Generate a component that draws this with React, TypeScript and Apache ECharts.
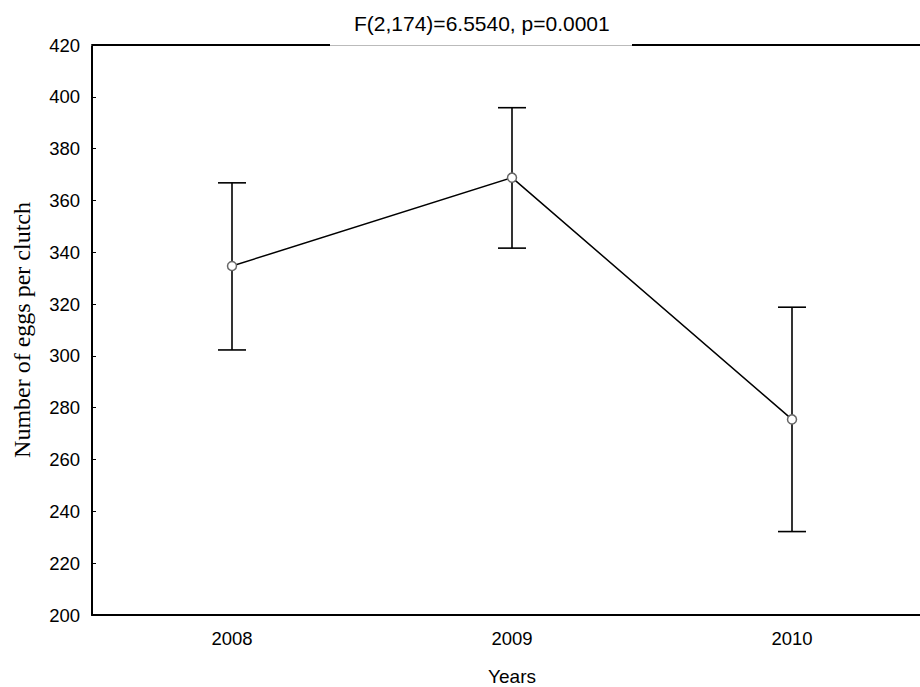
import React, { useEffect, useRef } from "react";
import * as echarts from "echarts";

const years = ["2008", "2009", "2010"];
const means = [334.7, 368.8, 275.5];
const lower = [302.3, 341.6, 232.2];
const upper = [366.8, 395.8, 318.8];
const yTicks = { min: 200, max: 420, interval: 20 };
const titleText = "F(2,174)=6.5540, p=0.0001";
const xName = "Years";
const yName = "Number of eggs per clutch";

export default function App() {
  const ref = useRef<HTMLDivElement>(null);
  useEffect(() => {
    if (!ref.current) return;
    const chart = echarts.init(ref.current, null, { renderer: "svg" });
    const sans = "Liberation Sans, Arial, sans-serif";
    const errData = years.map((_, i) => [i, lower[i], upper[i]]);
    chart.setOption({
      animation: false,
      backgroundColor: "#fff",
      title: {
        text: titleText,
        left: 349,
        top: 8,
        textStyle: { fontFamily: sans, fontSize: 21, fontWeight: "normal", color: "#000" },
      },
      grid: { left: 92, right: -12, top: 45, bottom: 72, containLabel: false, outerBoundsMode: "none" },
      xAxis: [
        {
          type: "category",
          data: years,
          position: "bottom",
          axisLine: { lineStyle: { color: "#000", width: 2 } },
          axisTick: { inside: true, length: 4, alignWithLabel: true, lineStyle: { color: "#000" } },
          axisLabel: { color: "#000", fontSize: 18.5, fontFamily: sans, margin: 14 },
          name: xName,
          nameLocation: "middle",
          nameGap: 52,
          nameTextStyle: { color: "#000", fontSize: 19, fontFamily: sans },
          splitLine: { show: false },
        },
        {
          type: "category",
          data: years,
          position: "top",
          axisLine: { show: true, lineStyle: { color: "#bbb", width: 1 } },
          axisTick: { inside: true, length: 4, alignWithLabel: true, lineStyle: { color: "#000" } },
          axisLabel: { show: false },
          splitLine: { show: false },
        },
      ],
      yAxis: {
        type: "value",
        min: yTicks.min,
        max: yTicks.max,
        interval: yTicks.interval,
        axisLine: { show: true, lineStyle: { color: "#000", width: 2 } },
        axisTick: { show: true, inside: true, length: 4, lineStyle: { color: "#000" } },
        axisLabel: { color: "#000", fontSize: 18.5, fontFamily: sans, margin: 12 },
        splitLine: { show: false },
        name: yName,
        nameLocation: "middle",
        nameGap: 58,
        nameTextStyle: { color: "#000", fontSize: 24, fontFamily: "Liberation Serif, Times New Roman, serif" },
      },
      graphic: [
        { type: "line", shape: { x1: 92, y1: 45, x2: 330, y2: 45 }, style: { stroke: "#000", lineWidth: 2 }, z: 10 },
        { type: "line", shape: { x1: 632, y1: 45, x2: 920, y2: 45 }, style: { stroke: "#000", lineWidth: 2 }, z: 10 },
      ],
      series: [
        {
          type: "custom",
          data: errData,
          z: 2,
          renderItem: (params: any, api: any) => {
            const i = api.value(0);
            const lo = api.coord([i, api.value(1)]);
            const hi = api.coord([i, api.value(2)]);
            const hw = 14;
            const style = { stroke: "#000", lineWidth: 1.6 };
            return {
              type: "group",
              children: [
                { type: "line", shape: { x1: lo[0], y1: lo[1], x2: hi[0], y2: hi[1] }, style },
                { type: "line", shape: { x1: lo[0] - hw, y1: lo[1], x2: lo[0] + hw, y2: lo[1] }, style },
                { type: "line", shape: { x1: hi[0] - hw, y1: hi[1], x2: hi[0] + hw, y2: hi[1] }, style },
              ],
            };
          },
        },
        {
          type: "line",
          data: means,
          z: 5,
          symbol: "circle",
          symbolSize: 9,
          lineStyle: { color: "#000", width: 1.5 },
          itemStyle: { color: "#fff", borderColor: "#666", borderWidth: 1.5 },
        },
      ],
    });
    return () => chart.dispose();
  }, []);
  return (
    <div
      ref={ref}
      style={{ position: "fixed", left: 0, top: 0, width: 920, height: 687, background: "#fff" }}
    />
  );
}
